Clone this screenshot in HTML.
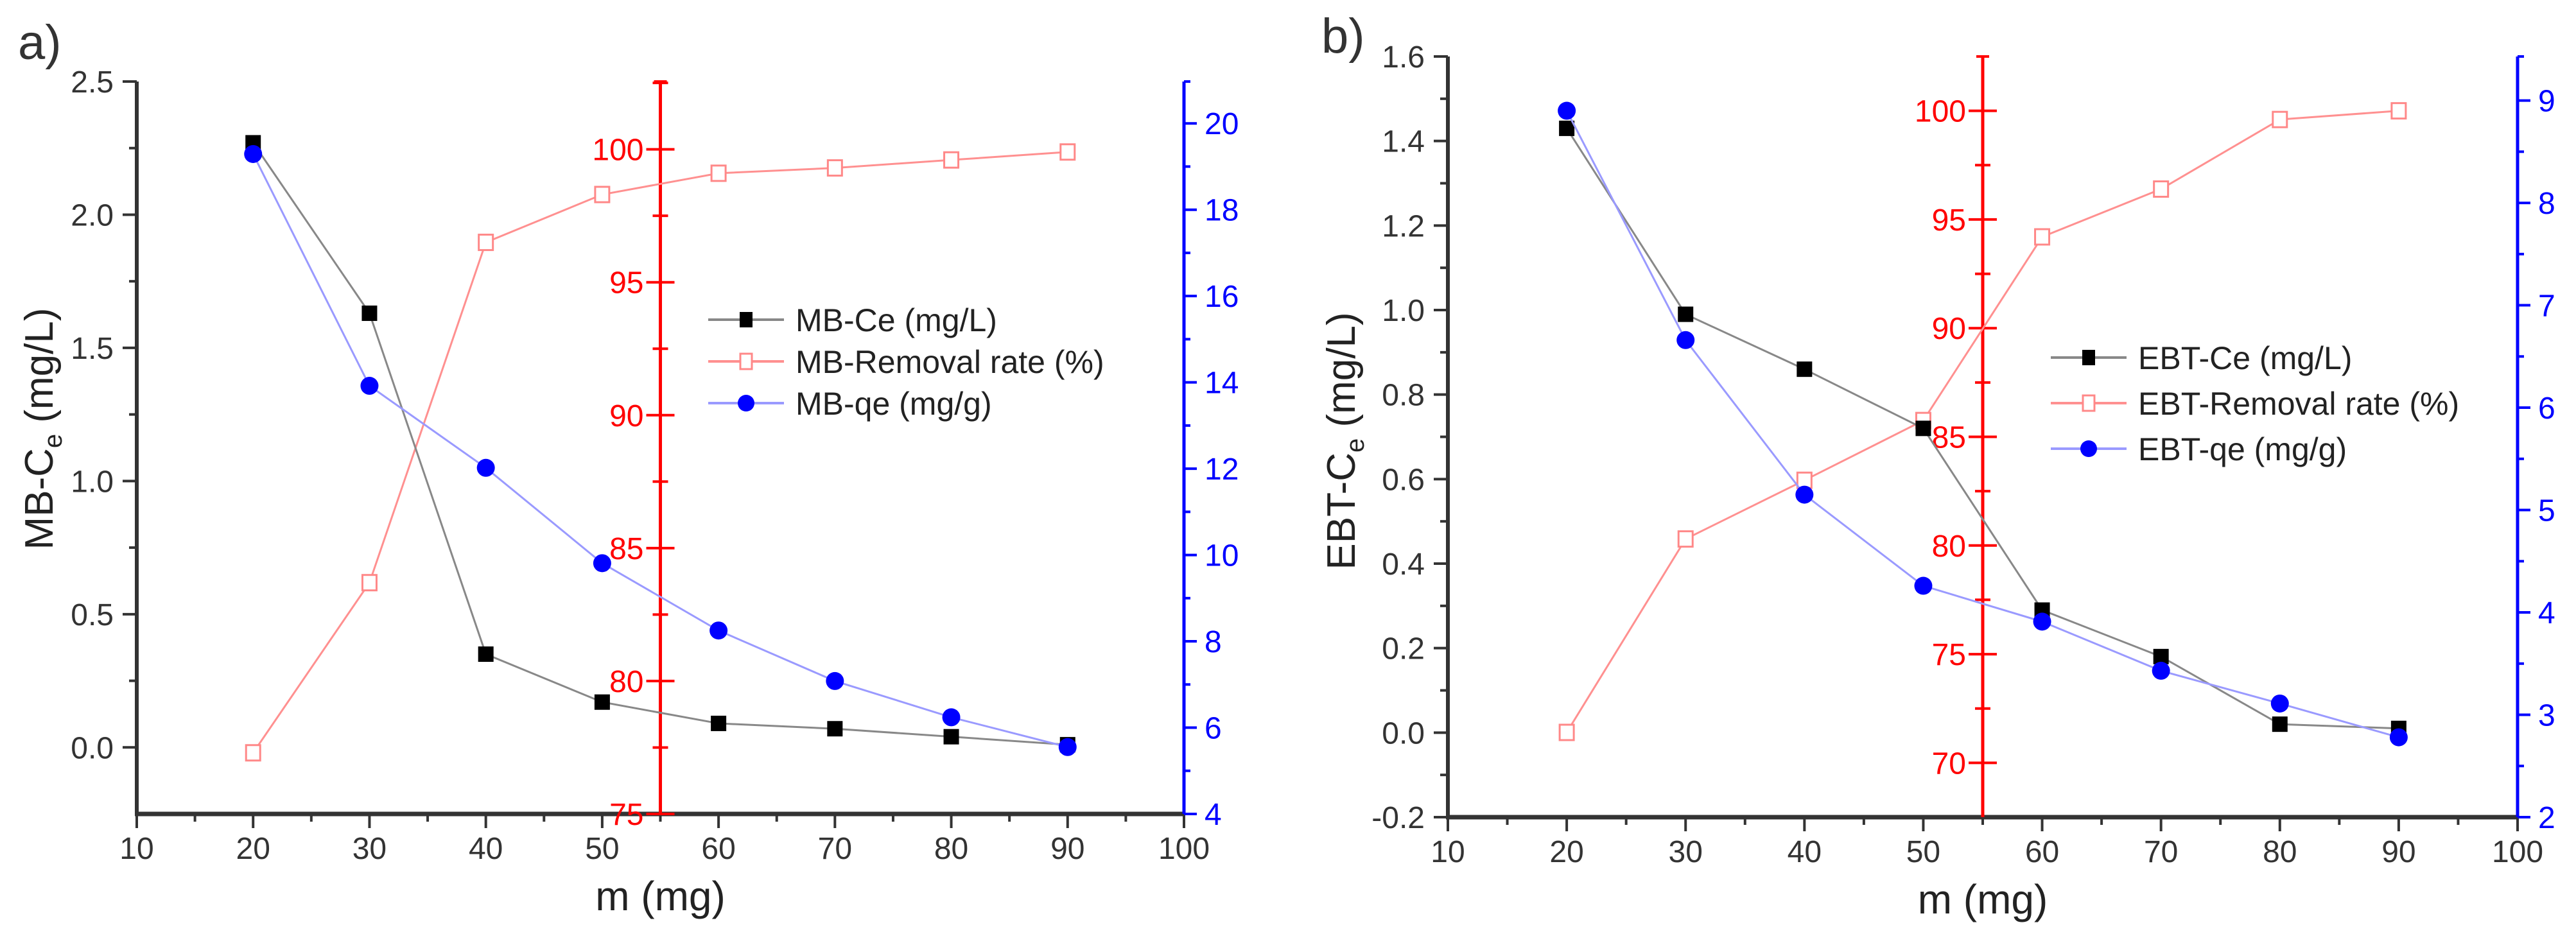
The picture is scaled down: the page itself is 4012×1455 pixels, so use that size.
<!DOCTYPE html>
<html><head><meta charset="utf-8"><style>
html,body{margin:0;padding:0;background:#fff;}
svg{display:block;font-family:"Liberation Sans",Arial,sans-serif;}
</style></head><body>
<svg id="fig" width="4012" height="1455" viewBox="0 0 4012 1455" xmlns="http://www.w3.org/2000/svg"></svg>
<script>
// ---- data ----
const xValues = [20,30,40,50,60,70,80,90];
const mbCe = [2.27,1.63,0.35,0.17,0.09,0.07,0.04,0.01];
const mbRemoval = [77.3,83.7,96.5,98.3,99.1,99.3,99.6,99.9];
const mbQe = [19.29,13.92,12.02,9.81,8.25,7.08,6.24,5.55];
const ebtCe = [1.43,0.99,0.86,0.72,0.29,0.18,0.02,0.01];
const ebtRemoval = [71.4,80.3,83.0,85.75,94.2,96.4,99.6,100.0];
const ebtQe = [8.90,6.66,5.15,4.26,3.91,3.43,3.11,2.78];
const xTicks = [10,20,30,40,50,60,70,80,90,100];
const aLeftTicks = ["0.0","0.5","1.0","1.5","2.0","2.5"];
const aRedTicks = ["75","80","85","90","95","100"];
const aBlueTicks = ["4","6","8","10","12","14","16","18","20"];
const bLeftTicks = ["-0.2","0.0","0.2","0.4","0.6","0.8","1.0","1.2","1.4","1.6"];
const bRedTicks = ["70","75","80","85","90","95","100"];
const bBlueTicks = ["2","3","4","5","6","7","8","9"];
const aLegend = ["MB-Ce (mg/L)","MB-Removal rate (%)","MB-qe (mg/g)"];
const bLegend = ["EBT-Ce (mg/L)","EBT-Removal rate (%)","EBT-qe (mg/g)"];

const NS="http://www.w3.org/2000/svg";
const svg=document.getElementById('fig');
function el(tag,attrs,parent,text){const e=document.createElementNS(NS,tag);for(const k in attrs)e.setAttribute(k,attrs[k]);if(text!==undefined)e.textContent=text;(parent||svg).appendChild(e);return e;}

function panel(cfg){
  const g=el('g',{});
  
  
  const L=cfg.L,R=cfg.R,T=cfg.T,B=cfg.B;
  const sx=v=>L+(v-10)/90*(R-L);
  const syL=v=>B-(v-cfg.lMin)/(cfg.lMax-cfg.lMin)*(B-T);
  const syR=v=>B-(v-cfg.rMin)/(cfg.rMax-cfg.rMin)*(B-T);
  const syB=v=>B-(v-cfg.bMin)/(cfg.bMax-cfg.bMin)*(B-T);
  const redX=sx(55);
  // panel label
  const pl=el('text',{x:cfg.labX,y:cfg.labY,'font-size':76,fill:'#333'},g,cfg.label);
  
  
  // left axis
  const la=el('g',{},g);
  
  
  el('line',{x1:L,y1:T,x2:L,y2:B,stroke:'#333','stroke-width':6},la);
  cfg.lTicks.forEach((t,i)=>{const v=parseFloat(t);const y=syL(v);
    el('line',{x1:L-22,y1:y,x2:L,y2:y,stroke:'#333','stroke-width':4},la);
    const tx=el('text',{x:L-36,y:y+17,'font-size':48,'text-anchor':'end',fill:'#333'},la,t);
    
    
    if(i<cfg.lTicks.length-1){const ym=syL(v+cfg.lStep/2);el('line',{x1:L-12,y1:ym,x2:L,y2:ym,stroke:'#333','stroke-width':4},la);}
  });
  if(cfg.lBottomMinor){const y=syL(cfg.lMin);el('line',{x1:L-12,y1:y,x2:L,y2:y,stroke:'#333','stroke-width':4},la);}
  // y title
  const yt=el('text',{transform:`translate(${cfg.ytX},${cfg.ytY}) rotate(-90)`,'font-size':62,'text-anchor':'middle',fill:'#222'},g);
  
  
  el('tspan',{},yt,cfg.ytPre+'-C');
  el('tspan',{'font-size':40,dy:14},yt,'e');
  el('tspan',{dy:-14},yt,'  (mg/L)');
  // x axis
  const xa=el('g',{},g);
  
  
  el('line',{x1:L-3,y1:B,x2:R,y2:B,stroke:'#333','stroke-width':7},xa);
  xTicks.forEach((t,i)=>{const x=sx(t);
    el('line',{x1:x,y1:B,x2:x,y2:B+22,stroke:'#333','stroke-width':4},xa);
    const tx=el('text',{x:x,y:B+70,'font-size':48,'text-anchor':'middle',fill:'#333'},xa,String(t));
    
    
    if(i<xTicks.length-1){const xm=sx(t+5);el('line',{x1:xm,y1:B,x2:xm,y2:B+12,stroke:'#333','stroke-width':4},xa);}
  });
  const xt=el('text',{x:sx(55),y:B+150,'font-size':64,'text-anchor':'middle',fill:'#222'},g,'m (mg)');
  
  
  // red axis
  const ra=el('g',{},g);
  
  
  el('line',{x1:redX,y1:T,x2:redX,y2:B,stroke:'#f00','stroke-width':5},ra);
  el('line',{x1:redX-10,y1:T,x2:redX+10,y2:T,stroke:'#f00','stroke-width':4},ra);
  cfg.rTicks.forEach((t,i)=>{const v=parseFloat(t);const y=syR(v);
    el('line',{x1:redX-22,y1:y,x2:redX+22,y2:y,stroke:'#f00','stroke-width':4},ra);
    const tx=el('text',{x:redX-26,y:y+17,'font-size':48,'text-anchor':'end',fill:'#f00'},ra,t);
    
    
    const ym=syR(v+2.5);if(ym>T)el('line',{x1:redX-12,y1:ym,x2:redX+12,y2:ym,stroke:'#f00','stroke-width':4},ra);
    if(i===0){const yb=syR(v-2.5);if(yb<B)el('line',{x1:redX-12,y1:yb,x2:redX+12,y2:yb,stroke:'#f00','stroke-width':4},ra);}
  });
  // blue axis
  const ba=el('g',{},g);
  
  
  el('line',{x1:R,y1:T,x2:R,y2:B,stroke:'#00f','stroke-width':5},ba);
  el('line',{x1:R,y1:T,x2:R+10,y2:T,stroke:'#00f','stroke-width':4},ba);
  cfg.bTicks.forEach((t,i)=>{const v=parseFloat(t);const y=syB(v);
    el('line',{x1:R,y1:y,x2:R+20,y2:y,stroke:'#00f','stroke-width':4},ba);
    const tx=el('text',{x:R+32,y:y+17,'font-size':48,'text-anchor':'start',fill:'#00f'},ba,t);
    
    
    const ym=syB(v+cfg.bStep/2);if(ym>T)el('line',{x1:R,y1:ym,x2:R+10,y2:ym,stroke:'#00f','stroke-width':4},ba);
  });
  // series
  function series(vals,sy,color,marker,name){
    const sg=el('g',{},g);
    
    
    const pts=xValues.map((x,i)=>sx(x)+','+sy(vals[i])).join(' ');
    el('polyline',{points:pts,fill:'none',stroke:color.line,'stroke-width':3},sg);
    xValues.forEach((x,i)=>{
      let m;
      if(marker==='sq') m=el('rect',{x:sx(x)-12,y:sy(vals[i])-12,width:24,height:24,fill:'#000'},sg);
      else if(marker==='osq') m=el('rect',{x:sx(x)-11,y:sy(vals[i])-12,width:22,height:24,fill:'#fff',stroke:'#f88','stroke-width':3},sg);
      else m=el('circle',{cx:sx(x),cy:sy(vals[i]),r:14,fill:'#00f'},sg);
      
      
    });
  }
  series(cfg.rem,syR,{line:'#ff9090'},'osq','removal-rate-series');
  series(cfg.ce,syL,{line:'#888'},'sq','ce-series');
  series(cfg.qe,syB,{line:'#9a9aff'},'ci','qe-series');
  // legend
  const lg=el('g',{},g);
  
  
  const cols=[['#888','sq'],['#ff9090','osq'],['#9a9aff','ci']];
  cfg.legend.forEach((txt,i)=>{
    const y=cfg.legY+i*cfg.legDy;
    const e=el('g',{},lg);
    
    
    el('line',{x1:cfg.legX,y1:y,x2:cfg.legX+118,y2:y,stroke:cols[i][0],'stroke-width':4},e);
    const cx=cfg.legX+59;
    if(cols[i][1]==='sq')el('rect',{x:cx-10,y:y-12,width:20,height:24,fill:'#000'},e);
    else if(cols[i][1]==='osq')el('rect',{x:cx-9,y:y-12,width:18,height:24,fill:'#fff',stroke:'#f88','stroke-width':3},e);
    else el('circle',{cx:cx,cy:y,r:13,fill:'#00f'},e);
    el('text',{x:cfg.legX+136,y:y+18,'font-size':50,fill:'#222'},e,txt);
  });
}

panel({name:'panel-a-mb',label:'a)',labX:28,labY:92,L:213,R:1844,T:127,B:1268,
  lMin:-0.25,lMax:2.5,lStep:0.5,lTicks:aLeftTicks,lBottomMinor:false,
  rMin:75,rMax:102.55,rTicks:aRedTicks,bMin:4,bMax:20.97,bStep:2,bTicks:aBlueTicks,
  ce:mbCe,rem:mbRemoval,qe:mbQe,ytX:82,ytY:668,ytPre:'MB',
  legend:aLegend,legX:1103,legY:498,legDy:65});
panel({name:'panel-b-ebt',label:'b)',labX:2058,labY:82,L:2255,R:3921,T:88,B:1273,
  lMin:-0.2,lMax:1.6,lStep:0.2,lTicks:bLeftTicks,lBottomMinor:false,
  rMin:67.5,rMax:102.5,rTicks:bRedTicks,bMin:2,bMax:9.43,bStep:1,bTicks:bBlueTicks,
  ce:ebtCe,rem:ebtRemoval,qe:ebtQe,ytX:2110,ytY:687,ytPre:'EBT',
  legend:bLegend,legX:3194,legY:557,legDy:71});
</script>
</body></html>
